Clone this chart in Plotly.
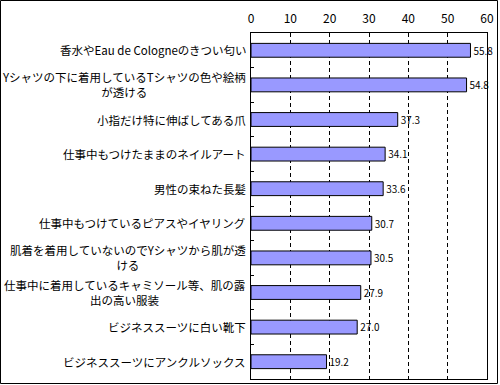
import plotly.graph_objects as go

categories = [
    "香水やEau de Cologneのきつい匂い",
    "Yシャツの下に着用しているTシャツの色や絵柄<br>が透ける",
    "小指だけ特に伸ばしてある爪",
    "仕事中もつけたままのネイルアート",
    "男性の束ねた長髪",
    "仕事中もつけているピアスやイヤリング",
    "肌着を着用していないのでYシャツから肌が透<br>ける",
    "仕事中に着用しているキャミソール等、肌の露<br>出の高い服装",
    "ビジネススーツに白い靴下",
    "ビジネススーツにアンクルソックス",
]
values = [55.8, 54.8, 37.3, 34.1, 33.6, 30.7, 30.5, 27.9, 27.0, 19.2]
x_ticks = [0, 10, 20, 30, 40, 50, 60]

FONT = "Noto Sans CJK JP, DejaVu Sans, sans-serif"

W, H = 500, 385
L, R, T, B = 251, 13, 33, 6
pw, ph = W - L - R, H - T - B

fig = go.Figure()
fig.add_trace(go.Bar(
    x=values,
    y=categories,
    orientation="h",
    width=0.4,
    marker=dict(color="#9999FF", line=dict(color="black", width=1)),
    text=values,
    texttemplate="%{x:.1f}",
    textposition="outside",
    textfont=dict(family=FONT, size=11.5, color="black"),
    cliponaxis=False,
    hoverinfo="skip",
))

annotations = []
for c in categories:
    annotations.append(dict(
        x=0, xref="paper", xanchor="right", xshift=-3,
        y=c, yref="y", yanchor="middle",
        text=c, showarrow=False, align="center",
        font=dict(family=FONT, size=11.5, color="black"),
    ))

def px_to_paper_x(p):
    return (p - L) / pw

def px_to_paper_y(p):
    return (H - B - p) / ph

shapes = [dict(
    type="rect", xref="paper", yref="paper",
    x0=px_to_paper_x(0.5), x1=px_to_paper_x(W - 2.5),
    y0=px_to_paper_y(H - 1.5), y1=px_to_paper_y(0.5),
    line=dict(color="black", width=1), fillcolor="rgba(0,0,0,0)",
    layer="above",
)]

fig.update_layout(
    width=W, height=H,
    margin=dict(l=L, r=R, t=T, b=B, autoexpand=False),
    paper_bgcolor="white", plot_bgcolor="white",
    showlegend=False,
    font=dict(family=FONT, size=12, color="black"),
    annotations=annotations,
    shapes=shapes,
    xaxis=dict(
        side="top", range=[0, 60], tickvals=x_ticks,
        ticks="", ticklabelstandoff=4, showgrid=True, gridcolor="black", gridwidth=1,
        griddash="4px,3px", zeroline=False,
        showline=True, linecolor="black", linewidth=1, mirror=True,
        tickfont=dict(family=FONT, size=12, color="black"),
        fixedrange=True,
    ),
    yaxis=dict(
        autorange="reversed", showticklabels=False,
        ticks="inside", ticklen=3, tickcolor="black", tickson="boundaries",
        showgrid=False, showline=True, linecolor="black", linewidth=1, mirror=True,
        fixedrange=True,
    ),
)

fig.write_html("out.html", config={"displayModeBar": False},
               post_script="document.body.style.margin='0';document.body.style.padding='0';")
